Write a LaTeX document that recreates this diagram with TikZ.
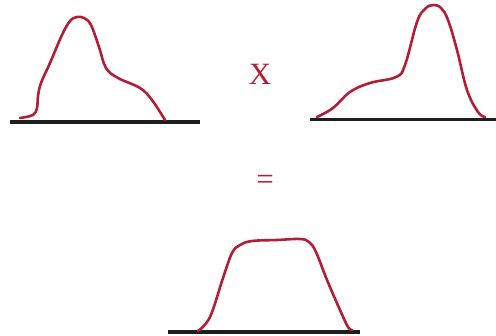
\documentclass[tikz,border=0pt]{standalone}
\usepackage{fontspec}
\setmainfont{Liberation Serif}
\definecolor{curvered}{RGB}{178,30,52}
\definecolor{baseblack}{RGB}{30,30,30}
\begin{document}
\begin{tikzpicture}[x=1pt,y=-1pt,
  curve/.style={draw=curvered,line width=2.6pt,line cap=round,line join=round},
  baseline/.style={draw=baseblack,line width=3.2pt},
  sym/.style={text=curvered,font=\fontsize{31}{31}\selectfont,inner sep=0pt}]
\useasboundingbox (0,0) rectangle (496,336);
% baselines
\draw[baseline] (10,122) -- (200,122);
\draw[baseline] (310,119.5) -- (496,119.5);
\draw[baseline] (168,332) -- (360,332);
% curve 1
\draw[curve] plot[smooth,tension=0.6] coordinates {
  (20,118) (33,115) (37,108) (38,96) (41,83) (50,63) (62,35) (70,21) (77,17) (84,18) (91,25)
  (99,47) (106,68) (118,78) (140,88) (152,100) (165,120)};
% curve 2
\draw[curve] plot[smooth,tension=0.65] coordinates {
  (317,117) (333,108) (350,92) (370,83) (396,77) (405,65) (417,22) (425,9) (433,5) (441,8)
  (448,20) (457,50) (467,90) (478,112) (485,117)};
% curve 3
\draw[curve] plot[smooth,tension=0.6] coordinates {
  (198,331) (210,317) (223,278) (232,253) (240,245) (252,241) (277,240) (300,239) (309,242)
  (316,252) (327,280) (340,310) (348,327) (352,330)};
% symbols
\node[sym] (times) at (260,74) {X};
\node[sym] (equals) at (265,182) {=};
\end{tikzpicture}
\end{document}
